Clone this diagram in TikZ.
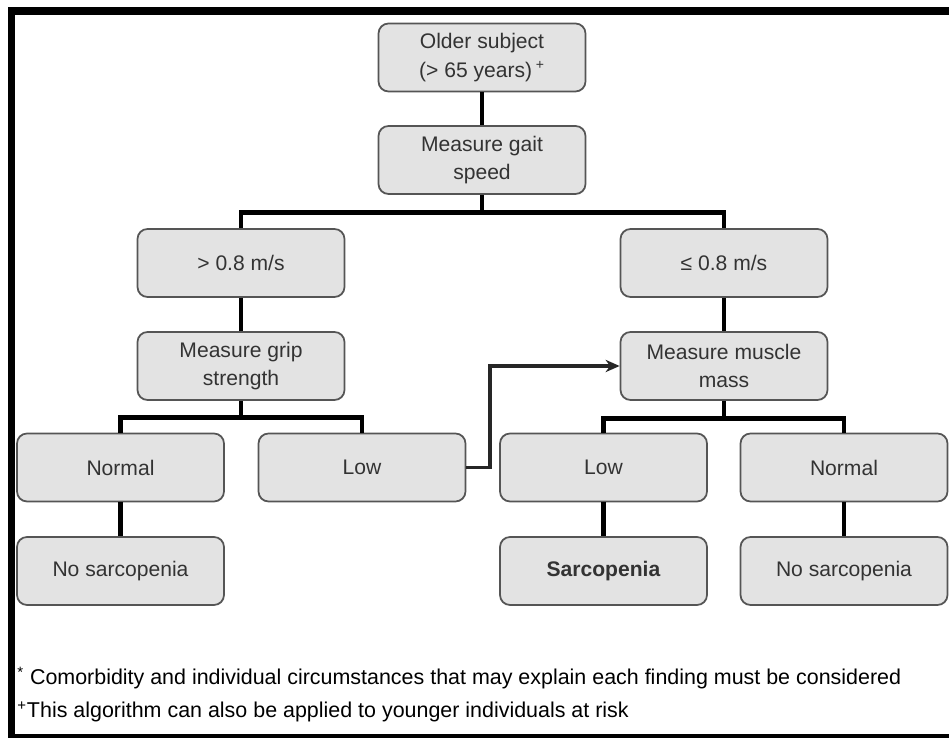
\documentclass[tikz,border=0pt]{standalone}
\usepackage{fontspec}
\setmainfont{Liberation Sans}
\usepackage{tikz}
\usetikzlibrary{positioning, arrows.meta, calc}
\definecolor{boxgray}{RGB}{227, 227, 227}
\definecolor{edgegray}{RGB}{85, 85, 85}
\definecolor{inkgray}{RGB}{51, 51, 51}

\begin{document}
\begin{tikzpicture}[>={Stealth[length=8pt, width=7pt]},
    box/.style={draw=edgegray, line width=1pt, fill=boxgray, rounded corners=0.2cm,
        minimum width=4.14cm, minimum height=1.36cm, align=center, text=inkgray,
        font=\fontsize{12}{16}\selectfont},
    link/.style={line width=2.8pt, black},
    note/.style={anchor=west, text=black, inner sep=0pt, font=\fontsize{12.2}{14}\selectfont}]
\useasboundingbox (0,0) rectangle (18.98,-14.76);
\draw[line width=4pt] (19.3,-14.76) -- (0.23,-14.76) -- (0.23,-0.22) -- (19.3,-0.22);

\node[box] (older) at (9.64,-1.15) {Older subject\\(> 65 years)\,\textsuperscript{+}};
\node[box] (gait) at (9.64,-3.2) {Measure gait\\speed};
\node[box] (fast) at (4.82,-5.26) {> 0.8 m/s};
\node[box] (slow) at (14.48,-5.26) {≤ 0.8 m/s};
\node[box] (grip) at (4.82,-7.32) {Measure grip\\strength};
\node[box] (mass) at (14.48,-7.32) {Measure muscle\\mass};
\node[box] (gnorm) at (2.41,-9.35) {Normal};
\node[box] (glow) at (7.24,-9.35) {Low};
\node[box] (mlow) at (12.07,-9.35) {Low};
\node[box] (mnorm) at (16.88,-9.35) {Normal};
\node[box] (gnone) at (2.41,-11.42) {No sarcopenia};
\node[box] (sarc) at (12.07,-11.42) {\textbf{Sarcopenia}};
\node[box] (mnone) at (16.88,-11.42) {No sarcopenia};

\coordinate (speedsplit) at ($(gait.south)+(0,-0.36)$);
\coordinate (gripsplit) at ($(grip.south)+(0,-0.34)$);
\coordinate (masssplit) at ($(mass.south)+(0,-0.36)$);
\coordinate (bend) at ($(glow.east)+(0.48,0)$);

\draw[link] (older) -- (gait);
\draw[link] (gait) -- (speedsplit);
\draw[link] (fast.north) |- (speedsplit) -| (slow.north);
\draw[link] (fast) -- (grip);
\draw[link] (slow) -- (mass);
\draw[link] (grip) -- (gripsplit);
\draw[link] (gnorm.north) |- (gripsplit) -| (glow.north);
\draw[link] (mass) -- (masssplit);
\draw[link] (mlow.north) |- (masssplit) -| (mnorm.north);
\draw[link] (gnorm) -- (gnone);
\draw[link] (mlow) -- (sarc);
\draw[link] (mnorm) -- (mnone);
\draw[->, line width=2.2pt, black!85] (glow.east) -- (bend) |- (mass.west);

\node[note] (note1) at (0.34,-13.56) {\textsuperscript{*} Comorbidity and individual circumstances that may explain each finding must be considered};
\node[note] (note2) at (0.34,-14.24) {\textsuperscript{+}This algorithm can also be applied to younger individuals at risk};
\end{tikzpicture}
\end{document}
